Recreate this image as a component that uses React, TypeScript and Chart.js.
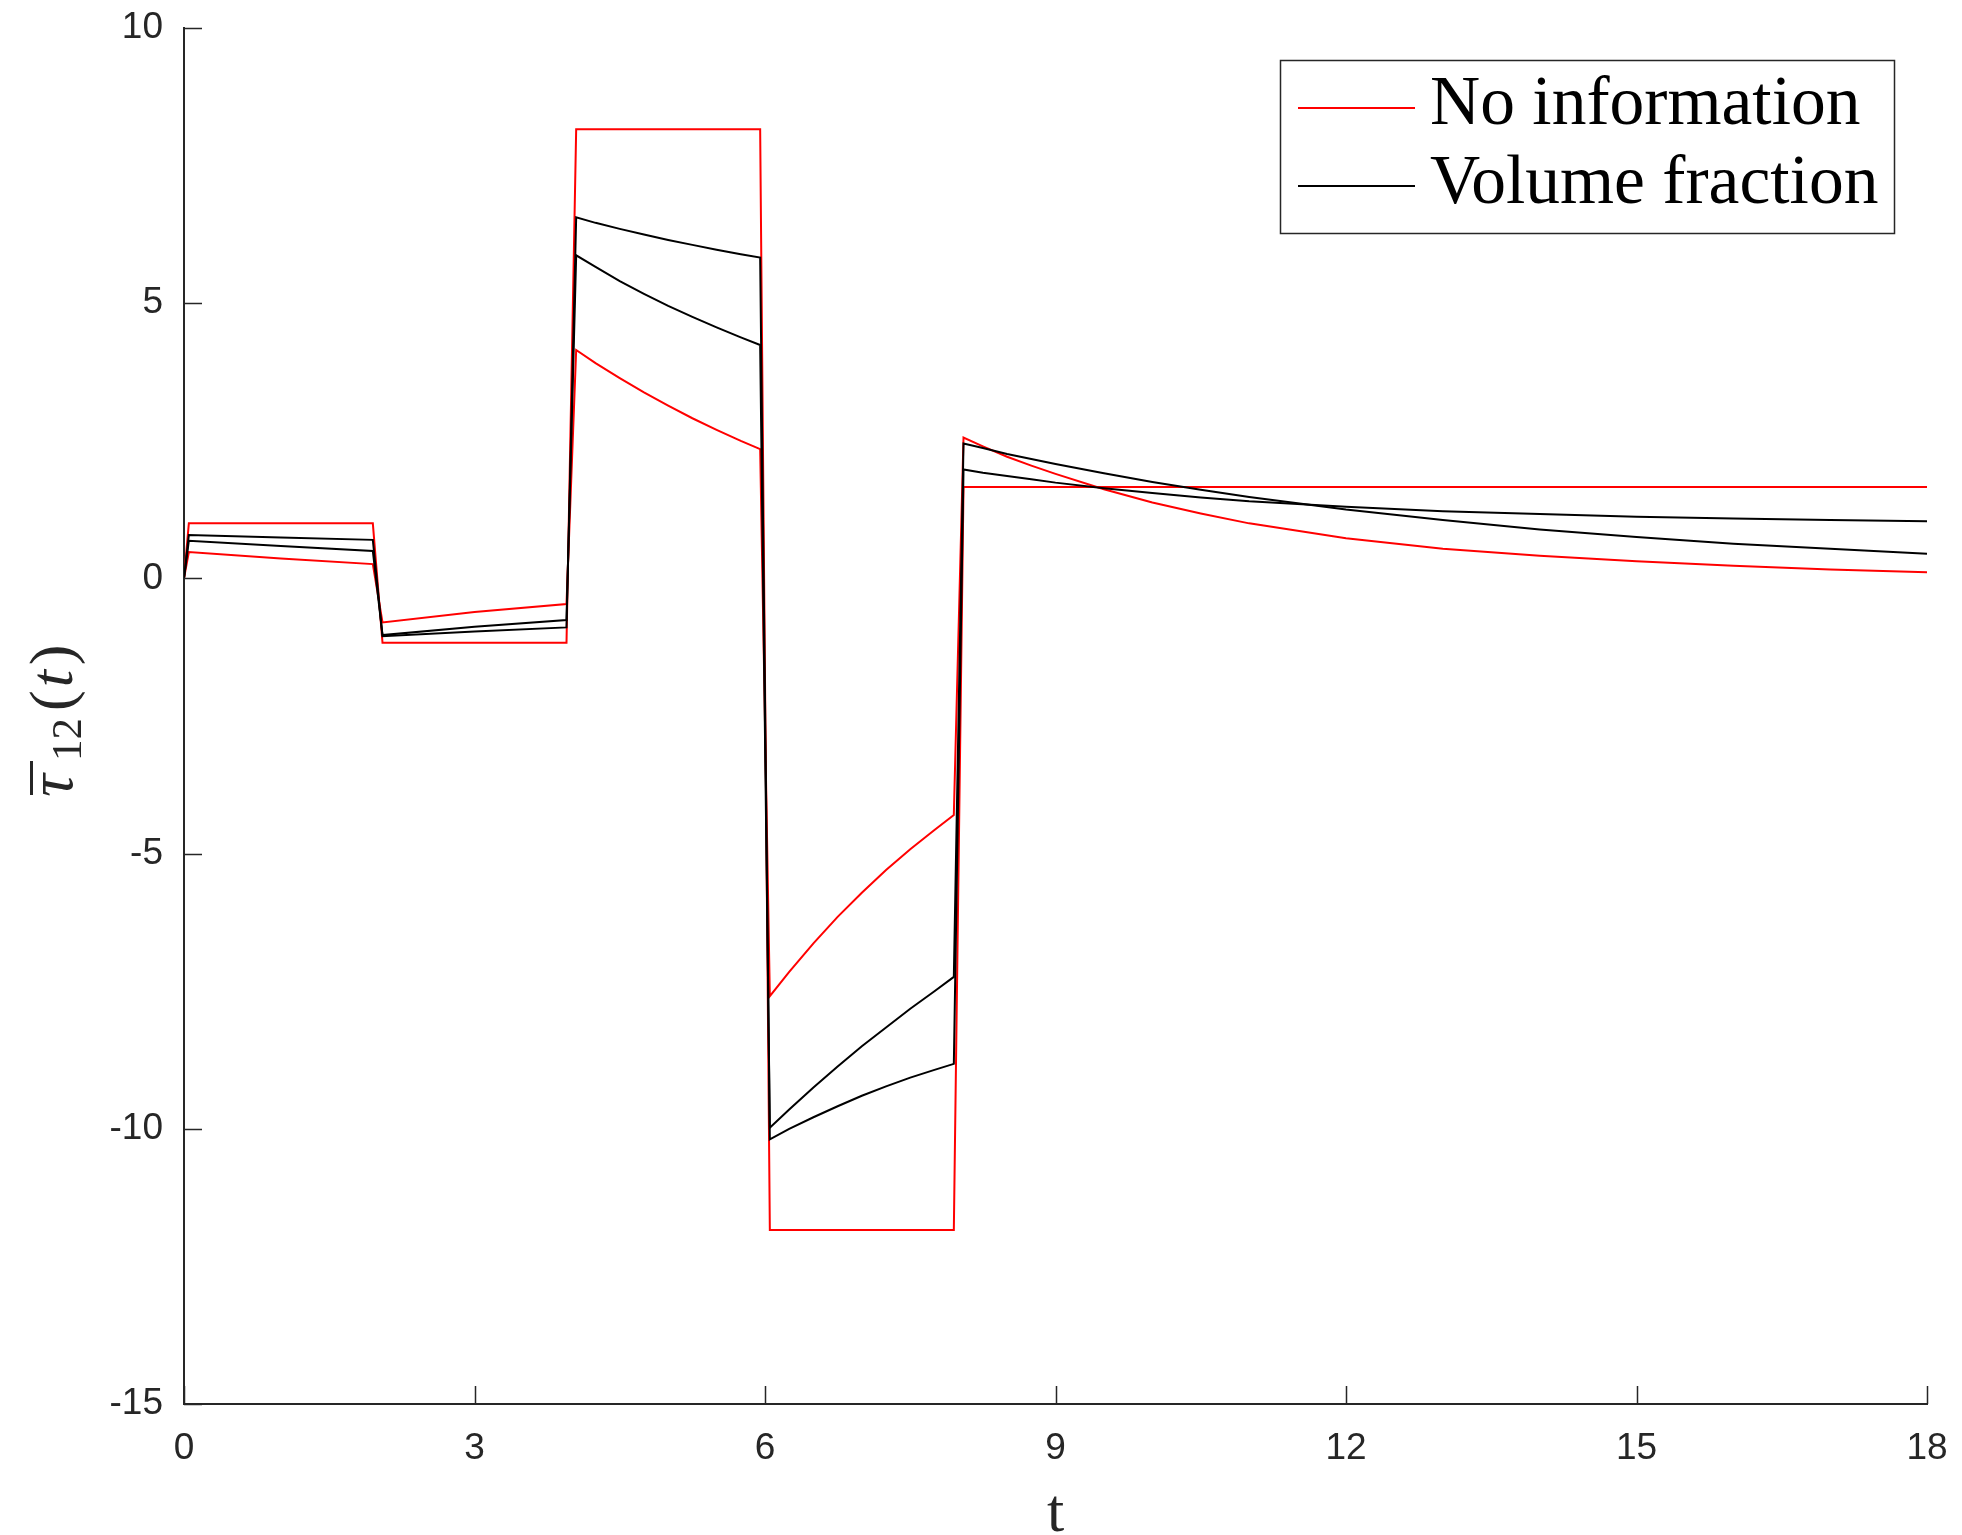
import React, { useEffect, useRef } from "react";
import { Chart, registerables } from "chart.js";

Chart.register(...registerables);

// ---------- data ----------
// "No information" piecewise-constant response
const stepT = [0, 0.05, 1.95, 2.05, 3.95, 4.05, 5.95, 6.05, 7.95, 8.05, 18];
const stepV = [0, 1.0, 1.0, -1.17, -1.17, 8.16, 8.16, -11.84, -11.84, 1.66, 1.66];

// common time grid for the relaxing curves
const relaxT = [
  0, 0.05, 1.0, 1.95,
  2.05, 3.0, 3.95,
  4.05, 4.25, 4.5, 4.75, 5.0, 5.25, 5.5, 5.75, 5.95,
  6.05, 6.25, 6.5, 6.75, 7.0, 7.25, 7.5, 7.75, 7.95,
  8.05, 8.25, 8.5, 8.75, 9, 9.5, 10, 10.5, 11, 12, 13, 14, 15, 16, 17, 18,
];
// "No information" relaxing response
const noInfoRelax = [
  0, 0.48, 0.36, 0.26,
  -0.8, -0.61, -0.465,
  4.15, 3.91, 3.64, 3.38, 3.14, 2.91, 2.7, 2.5, 2.35,
  -7.59, -7.15, -6.63, -6.15, -5.71, -5.3, -4.92, -4.57, -4.3,
  2.56, 2.4, 2.21, 2.05, 1.9, 1.62, 1.38, 1.18, 1.0, 0.73, 0.54, 0.41, 0.31, 0.23, 0.16, 0.11,
];
// "Volume fraction" responses
const volFast = [
  0, 0.685, 0.59, 0.5,
  -1.03, -0.88, -0.755,
  5.87, 5.66, 5.4, 5.17, 4.95, 4.75, 4.56, 4.38, 4.24,
  -9.98, -9.65, -9.25, -8.87, -8.5, -8.16, -7.82, -7.5, -7.24,
  2.45, 2.37, 2.26, 2.17, 2.08, 1.91, 1.75, 1.61, 1.48, 1.25, 1.06, 0.89, 0.75, 0.63, 0.54, 0.45,
];
const volSlow = [
  0, 0.79, 0.745, 0.7,
  -1.05, -0.965, -0.89,
  6.56, 6.46, 6.35, 6.25, 6.15, 6.06, 5.97, 5.89, 5.83,
  -10.19, -10.0, -9.79, -9.59, -9.4, -9.23, -9.07, -8.93, -8.82,
  1.98, 1.92, 1.86, 1.8, 1.74, 1.64, 1.55, 1.47, 1.4, 1.3, 1.22, 1.17, 1.12, 1.09, 1.06, 1.04,
];

const legendLabels = ["No information", "Volume fraction"];
const xTicksStep = 3;
const yTicksStep = 5;

const AXIS = "#262626";

const pairs = (xs: number[], ys: number[]) => xs.map((x, i) => ({ x, y: ys[i] }));

const zeroPad = (s: any) => {
  s.paddingTop = 0;
  s.paddingBottom = 0;
  s.paddingLeft = 0;
  s.paddingRight = 0;
};

const decorPlugin = {
  id: "decor",
  afterDraw(chart: any) {
    const { ctx, chartArea } = chart;
    const xs = chart.scales.x;
    const ys = chart.scales.y;
    const { left, bottom } = chartArea;
    ctx.save();
    // inward ticks
    ctx.strokeStyle = AXIS;
    ctx.lineWidth = 1.5;
    ctx.beginPath();
    ys.ticks.forEach((tk: any) => {
      const py = Math.round(ys.getPixelForValue(tk.value)) + 0.5;
      ctx.moveTo(left, py);
      ctx.lineTo(left + 18, py);
    });
    xs.ticks.forEach((tk: any) => {
      const px = Math.round(xs.getPixelForValue(tk.value)) + 0.5;
      ctx.moveTo(px, bottom);
      ctx.lineTo(px, bottom - 18);
    });
    ctx.stroke();

    // x title
    ctx.fillStyle = AXIS;
    ctx.textAlign = "center";
    ctx.textBaseline = "alphabetic";
    ctx.font = '62px "Liberation Serif"';
    ctx.fillText("t", (xs.left + xs.right) / 2, 1531);

    // y title: overline tau, subscript 12, (t)
    ctx.save();
    ctx.translate(72, 797);
    ctx.rotate(-Math.PI / 2);
    ctx.textAlign = "left";
    ctx.font = 'italic 64px "Liberation Serif"';
    ctx.fillText("\u03C4", 0, 0);
    ctx.fillRect(2, -42, 34, 3);
    ctx.font = '43px "Liberation Serif"';
    ctx.fillText("12", 36, 9);
    ctx.font = '62px "Liberation Serif"';
    let px = 86;
    ctx.fillText("(", px, 0);
    px += ctx.measureText("(").width + 3;
    ctx.font = 'italic 62px "Liberation Serif"';
    ctx.fillText("t", px, 0);
    px += ctx.measureText("t").width + 5;
    ctx.font = '62px "Liberation Serif"';
    ctx.fillText(")", px, 0);
    ctx.restore();

    // legend
    const bx = 1280, by = 60, bw = 614, bh = 173;
    ctx.fillStyle = "#ffffff";
    ctx.fillRect(bx, by, bw, bh);
    ctx.strokeStyle = AXIS;
    ctx.lineWidth = 1.5;
    ctx.strokeRect(bx + 0.5, by + 0.5, bw, bh);
    const rows = [
      { y: 108, color: "#ff0000", text: legendLabels[0], base: 124 },
      { y: 186, color: "#000000", text: legendLabels[1], base: 203 },
    ];
    rows.forEach((r) => {
      ctx.strokeStyle = r.color;
      ctx.lineWidth = 2;
      ctx.beginPath();
      ctx.moveTo(1298, r.y);
      ctx.lineTo(1415, r.y);
      ctx.stroke();
      ctx.fillStyle = "#000";
      ctx.font = '69.5px "Liberation Serif"';
      ctx.textAlign = "left";
      ctx.fillText(r.text, 1430, r.base);
    });
    ctx.restore();
  },
};

export default function App() {
  const ref = useRef<HTMLCanvasElement | null>(null);
  useEffect(() => {
    if (!ref.current) return;
    const lineDs = (label: string, data: any[], color: string) => ({
      label,
      data,
      borderColor: color,
      backgroundColor: color,
      borderWidth: 2,
      pointRadius: 0,
      tension: 0,
      fill: false,
    });
    const chart = new Chart(ref.current, {
      type: "line",
      data: {
        datasets: [
          lineDs(legendLabels[1], pairs(relaxT, volSlow), "#000000"),
          lineDs(legendLabels[1], pairs(relaxT, volFast), "#000000"),
          lineDs(legendLabels[0], pairs(relaxT, noInfoRelax), "#ff0000"),
          lineDs(legendLabels[0], pairs(stepT, stepV), "#ff0000"),
        ],
      },
      options: {
        animation: false,
        responsive: false,
        layout: { padding: { left: 0, top: 28, right: 35, bottom: 0 } },
        plugins: { legend: { display: false }, tooltip: { enabled: false } },
        scales: {
          x: {
            type: "linear",
            min: 0,
            max: 18,
            ticks: {
              stepSize: xTicksStep,
              color: AXIS,
              padding: 23,
              font: { family: '"Liberation Sans", Arial, sans-serif', size: 37 },
              maxRotation: 0,
            },
            grid: { display: false, drawTicks: false },
            border: { display: true, color: AXIS, width: 2 },
            afterFit: (s: any) => {
              s.height = 131;
              zeroPad(s);
            },
          },
          y: {
            type: "linear",
            min: -15,
            max: 10,
            ticks: {
              stepSize: yTicksStep,
              color: AXIS,
              padding: 21,
              font: { family: '"Liberation Sans", Arial, sans-serif', size: 37 },
            },
            grid: { display: false, drawTicks: false },
            border: { display: true, color: AXIS, width: 2 },
            afterFit: (s: any) => {
              s.width = 184;
              zeroPad(s);
            },
          },
        },
      },
      plugins: [decorPlugin],
    });
    return () => chart.destroy();
  }, []);
  return (
    <div style={{ position: "absolute", left: 0, top: 0, width: 1962, height: 1535, background: "#fff" }}>
      <canvas ref={ref} width={1962} height={1535} style={{ display: "block" }} />
    </div>
  );
}
